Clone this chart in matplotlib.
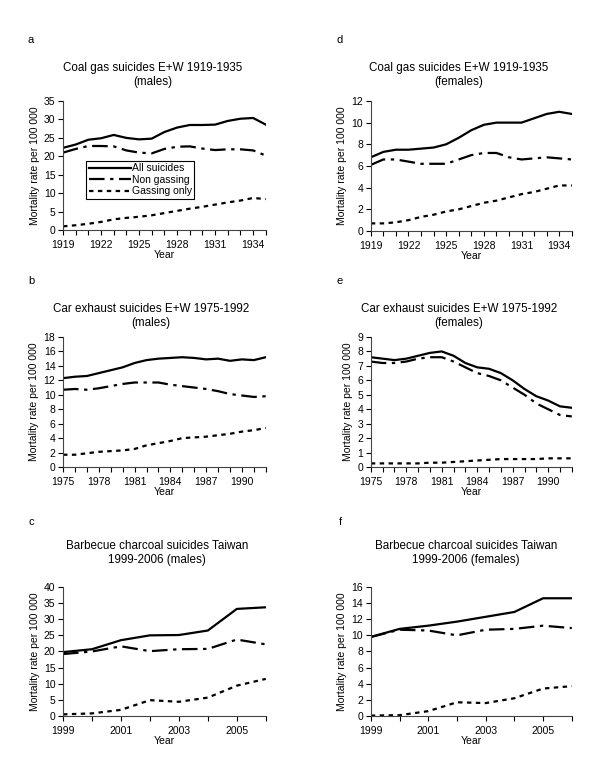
import matplotlib
matplotlib.use("Agg")
import matplotlib.pyplot as plt
import numpy as np

plt.rcParams['font.family'] = ['Liberation Sans', 'DejaVu Sans']

# data
coal_years = list(range(1919, 1936))
coal_m_all = [22.3, 23.2, 24.5, 24.9, 25.8, 25.0, 24.6, 24.8, 26.6, 27.8, 28.5, 28.5, 28.6, 29.6, 30.2, 30.4, 28.6]
coal_m_non = [21.0, 22.0, 22.8, 22.8, 22.7, 21.6, 21.0, 20.8, 22.0, 22.6, 22.7, 22.1, 21.7, 21.9, 21.9, 21.6, 20.2]
coal_m_gas = [1.0, 1.3, 1.7, 2.2, 2.9, 3.3, 3.6, 4.0, 4.6, 5.2, 5.8, 6.3, 6.9, 7.5, 8.0, 8.7, 8.4]
coal_f_all = [6.8, 7.3, 7.5, 7.5, 7.6, 7.7, 8.0, 8.6, 9.3, 9.8, 10.0, 10.0, 10.0, 10.4, 10.8, 11.0, 10.8]
coal_f_non = [6.1, 6.6, 6.6, 6.4, 6.2, 6.2, 6.2, 6.6, 7.0, 7.2, 7.2, 6.8, 6.6, 6.7, 6.8, 6.7, 6.6]
coal_f_gas = [0.7, 0.7, 0.8, 1.0, 1.3, 1.5, 1.8, 2.0, 2.3, 2.6, 2.8, 3.1, 3.4, 3.6, 3.9, 4.2, 4.2]

car_years = list(range(1975, 1993))
car_m_all = [12.3, 12.5, 12.6, 13.0, 13.4, 13.8, 14.4, 14.8, 15.0, 15.1, 15.2, 15.1, 14.9, 15.0, 14.7, 14.9, 14.8, 15.2]
car_m_non = [10.7, 10.8, 10.7, 10.9, 11.2, 11.5, 11.7, 11.7, 11.7, 11.4, 11.2, 11.0, 10.8, 10.5, 10.1, 9.9, 9.7, 9.8]
car_m_gas = [1.7, 1.7, 1.9, 2.1, 2.2, 2.3, 2.5, 3.0, 3.3, 3.6, 4.0, 4.1, 4.2, 4.4, 4.6, 4.9, 5.1, 5.4]
car_f_all = [7.6, 7.5, 7.4, 7.5, 7.7, 7.9, 8.0, 7.7, 7.2, 6.9, 6.8, 6.5, 6.0, 5.4, 4.9, 4.6, 4.2, 4.1]
car_f_non = [7.3, 7.2, 7.2, 7.3, 7.5, 7.6, 7.6, 7.3, 6.9, 6.5, 6.3, 6.0, 5.5, 5.0, 4.4, 4.0, 3.6, 3.5]
car_f_gas = [0.25, 0.25, 0.25, 0.25, 0.25, 0.3, 0.3, 0.35, 0.4, 0.45, 0.5, 0.55, 0.55, 0.55, 0.55, 0.6, 0.6, 0.6]

bbq_years = list(range(1999, 2007))
bbq_m_all = [19.8, 20.7, 23.5, 25.0, 25.1, 26.5, 33.2, 33.7]
bbq_m_non = [19.2, 20.0, 21.6, 20.1, 20.7, 20.8, 23.7, 22.2]
bbq_m_gas = [0.5, 0.8, 1.9, 4.9, 4.4, 5.7, 9.4, 11.5]
bbq_f_all = [9.8, 10.8, 11.2, 11.7, 12.3, 12.9, 14.6, 14.6]
bbq_f_non = [9.8, 10.7, 10.6, 10.0, 10.7, 10.8, 11.2, 10.9]
bbq_f_gas = [0.05, 0.1, 0.6, 1.7, 1.6, 2.2, 3.4, 3.7]

series_labels = ['All suicides', 'Non gassing', 'Gassing only']

fig = plt.figure(figsize=(6.0, 7.79), dpi=100)

panels = [
    # letter, title, years, (all, non, gas), ymax, ystep, xtick step, axes rect, title pos
    ('a', 'Coal gas suicides E+W 1919-1935\n(males)', coal_years,
     (coal_m_all, coal_m_non, coal_m_gas), 35, 5, 3,
     [0.105, 0.7047, 0.338, 0.1656], (153, 75)),
    ('d', 'Coal gas suicides E+W 1919-1935\n(females)', coal_years,
     (coal_f_all, coal_f_non, coal_f_gas), 12, 2, 3,
     [0.618, 0.7035, 0.335, 0.1669], (459, 75)),
    ('b', 'Car exhaust suicides E+W 1975-1992\n(males)', car_years,
     (car_m_all, car_m_non, car_m_gas), 18, 2, 3,
     [0.105, 0.4005, 0.338, 0.1669], (151, 316)),
    ('e', 'Car exhaust suicides E+W 1975-1992\n(females)', car_years,
     (car_f_all, car_f_non, car_f_gas), 9, 1, 3,
     [0.618, 0.4005, 0.335, 0.1669], (459, 316)),
    ('c', 'Barbecue charcoal suicides Taiwan\n1999-2006 (males)', bbq_years,
     (bbq_m_all, bbq_m_non, bbq_m_gas), 40, 5, 2,
     [0.105, 0.0809, 0.338, 0.1656], (157, 553)),
    ('f', 'Barbecue charcoal suicides Taiwan\n1999-2006 (females)', bbq_years,
     (bbq_f_all, bbq_f_non, bbq_f_gas), 16, 2, 2,
     [0.618, 0.0809, 0.335, 0.1656], (466, 553)),
]

letter_pos = {'a': (31, 40), 'd': (340, 40), 'b': (31, 281),
              'e': (340, 281), 'c': (31, 522), 'f': (340, 522)}

W, H = 600.0, 779.0
for letter, title, years, (s_all, s_non, s_gas), ymax, ystep, xstep, rect, tpos in panels:
    ax = fig.add_axes(rect)
    ax.plot(years, s_all, color='black', lw=1.6, ls='-', label=series_labels[0])
    ax.plot(years, s_non, color='black', lw=1.6, ls=(0, (7, 2.5, 1.5, 2.5)), label=series_labels[1])
    ax.plot(years, s_gas, color='black', lw=1.6, ls=(0, (2, 2)), label=series_labels[2])

    ax.set_xlim(years[0], years[-1])
    ax.set_ylim(0, ymax)
    ax.set_yticks(np.arange(0, ymax + 0.01, ystep))
    ax.set_xticks(years[::xstep])
    ax.set_xticks(years, minor=True)
    ax.tick_params(axis='both', which='both', direction='out', length=3.5,
                   width=0.8, labelsize=7.5, pad=2, colors='black')
    ax.tick_params(axis='x', which='minor', labelbottom=False)
    ax.tick_params(axis='x', which='major', pad=4)
    for side in ['top', 'right']:
        ax.spines[side].set_visible(False)
    for side in ['left', 'bottom']:
        ax.spines[side].set_color('#444444')
        ax.spines[side].set_linewidth(0.8)
    ax.set_xlabel('Year', fontsize=7.5, labelpad=0)
    ax.set_ylabel('Mortality rate per 100 000', fontsize=7.5, labelpad=3)

    fig.text(tpos[0] / W, 1 - tpos[1] / H, title, ha='center', va='center',
             fontsize=8.4, linespacing=1.3)
    lx, ly = letter_pos[letter]
    fig.text(lx / W, 1 - ly / H, letter, ha='center', va='center', fontsize=8)

    if letter == 'a':
        leg = ax.legend(loc='lower left', bbox_to_anchor=(0.115, 0.24), fontsize=7.5,
                        handlelength=4.0, handletextpad=0.1, borderpad=0.25,
                        labelspacing=0.15, borderaxespad=0, fancybox=False,
                        framealpha=1)
        leg.get_frame().set_edgecolor('black')
        leg.get_frame().set_linewidth(0.8)

fig.savefig('out.png', dpi=100)
